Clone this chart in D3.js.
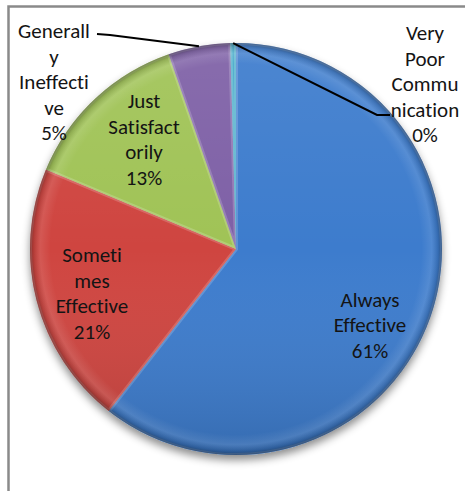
<!DOCTYPE html>
<html><head><meta charset="utf-8">
<script src="https://cdn.jsdelivr.net/npm/d3@7"></script>
<style>html,body{margin:0;padding:0;background:#fff;overflow:hidden} text{font-variant-ligatures:none;font-feature-settings:"liga" 0}</style>
</head><body><svg id="chart" width="465" height="491"></svg>
<script>
// ---- data ----
const categories = ["Always Effective", "Sometimes Effective", "Just Satisfactorily", "Generally Ineffective", "Very Poor Communication"];
const values = [60.6, 20.7, 13.4, 4.85, 0.45];
const labelLines = [
  ["Always", "Effective"],
  ["Someti", "mes", "Effective"],
  ["Just", "Satisfact", "orily"],
  ["Generall", "y", "Ineffecti", "ve"],
  ["Very", "Poor", "Commu", "nication"]
];

// ---- style / layout ----
const W = 465, H = 491;
const cx = 236, cy = 249, R = 206;
const colors = ["#3d7ccd", "#cf4540", "#a0c356", "#7e60a6", "#45aac9"];
const fontSize = 21, lineH = 25.5;
// label block centres relative to pie centre
const labelPos = [
  {dx: 134, dy: 76},
  {dx: -144, dy: 44},
  {dx: -92, dy: -110},
  {dx: -182, dy: -167},
  {dx: 189, dy: -165}
];
// leader lines: elbow & end relative to pie centre
const leaders = {
  3: [[-126, -214], [-139, -215]],
  4: [[141, -134], [154, -134]]
};

const svg = d3.select("#chart");
const defs = svg.append("defs");

// frame
svg.append("rect").attr("x", 8.5).attr("y", 6.5).attr("width", 600).attr("height", 600)
  .attr("fill", "none").attr("stroke", "#8a8a8a").attr("stroke-width", 2.5);

// filters & gradients
const f = defs.append("filter").attr("id", "shadow").attr("x", "-20%").attr("y", "-20%").attr("width", "140%").attr("height", "140%");
f.append("feDropShadow").attr("dx", 0).attr("dy", 5).attr("stdDeviation", 4)
  .attr("flood-color", "#000").attr("flood-opacity", 0.45);

const lg = defs.append("linearGradient").attr("id", "vshade").attr("x1", 0).attr("y1", 0).attr("x2", 0).attr("y2", 1);
lg.append("stop").attr("offset", "0%").attr("stop-color", "#fff").attr("stop-opacity", 0.08);
lg.append("stop").attr("offset", "50%").attr("stop-color", "#fff").attr("stop-opacity", 0);
lg.append("stop").attr("offset", "100%").attr("stop-color", "#000").attr("stop-opacity", 0.14);

const rg = defs.append("radialGradient").attr("id", "rim")
  .attr("cx", 0).attr("cy", 0).attr("r", R).attr("gradientUnits", "userSpaceOnUse");
rg.append("stop").attr("offset", "0%").attr("stop-color", "#fff").attr("stop-opacity", 0);
rg.append("stop").attr("offset", "90%").attr("stop-color", "#fff").attr("stop-opacity", 0);
rg.append("stop").attr("offset", "95%").attr("stop-color", "#fff").attr("stop-opacity", 0.10);
rg.append("stop").attr("offset", "98%").attr("stop-color", "#000").attr("stop-opacity", 0.12);
rg.append("stop").attr("offset", "100%").attr("stop-color", "#000").attr("stop-opacity", 0.35);

const pie = d3.pie().sort(null).value(d => d).startAngle(0).endAngle(2 * Math.PI);
const arcs = pie(values);
const arc = d3.arc().innerRadius(0).outerRadius(R);
const total = d3.sum(values);
const pct = d3.format(".0%");

const g = svg.append("g").attr("transform", `translate(${cx},${cy})`);
const pieG = g.append("g").attr("filter", "url(#shadow)");

// clip paths per slice for inner bevel highlight (local coordinates of g)
arcs.forEach((a, i) => {
  defs.append("clipPath").attr("id", "clip" + i)
    .append("path").attr("d", arc(a));
});

pieG.selectAll("path.slice").data(arcs).join("path")
  .attr("class", "slice")
  .attr("d", arc)
  .attr("fill", (d, i) => colors[i]);

// overlays
const ov = g.append("g");
ov.selectAll("path.bevel").data(arcs).join("path")
  .attr("class", "bevel")
  .attr("d", arc)
  .attr("clip-path", (d, i) => `url(#clip${i})`)
  .attr("fill", "none")
  .attr("stroke", "#fff").attr("stroke-opacity", 0.18).attr("stroke-width", 4);
ov.append("circle").attr("r", R).attr("fill", "url(#vshade)");
ov.append("circle").attr("r", R).attr("fill", "url(#rim)");

// leader lines
Object.keys(leaders).forEach(k => {
  const a = arcs[+k];
  const mid = (a.startAngle + a.endAngle) / 2;
  const p0 = [R * Math.sin(mid), -R * Math.cos(mid)];
  const pts = [p0].concat(leaders[k]);
  g.append("path").attr("d", d3.line()(pts))
    .attr("fill", "none").attr("stroke", "#000").attr("stroke-width", 2);
});

// labels
const font = "Carlito, Calibri, Lato, 'Liberation Sans', sans-serif";
arcs.forEach((a, i) => {
  const lines = labelLines[i].concat([pct(values[i] / total)]);
  const n = lines.length;
  const t = g.append("text")
    .attr("text-anchor", "middle")
    .attr("font-family", font)
    .attr("font-size", fontSize)
    .attr("fill", "#141414");
  lines.forEach((s, j) => {
    t.append("tspan")
      .attr("x", labelPos[i].dx)
      .attr("y", labelPos[i].dy + (j - (n - 1) / 2) * lineH)
      .attr("dy", "0.35em")
      .text(s);
  });
});
</script>
</body></html>
